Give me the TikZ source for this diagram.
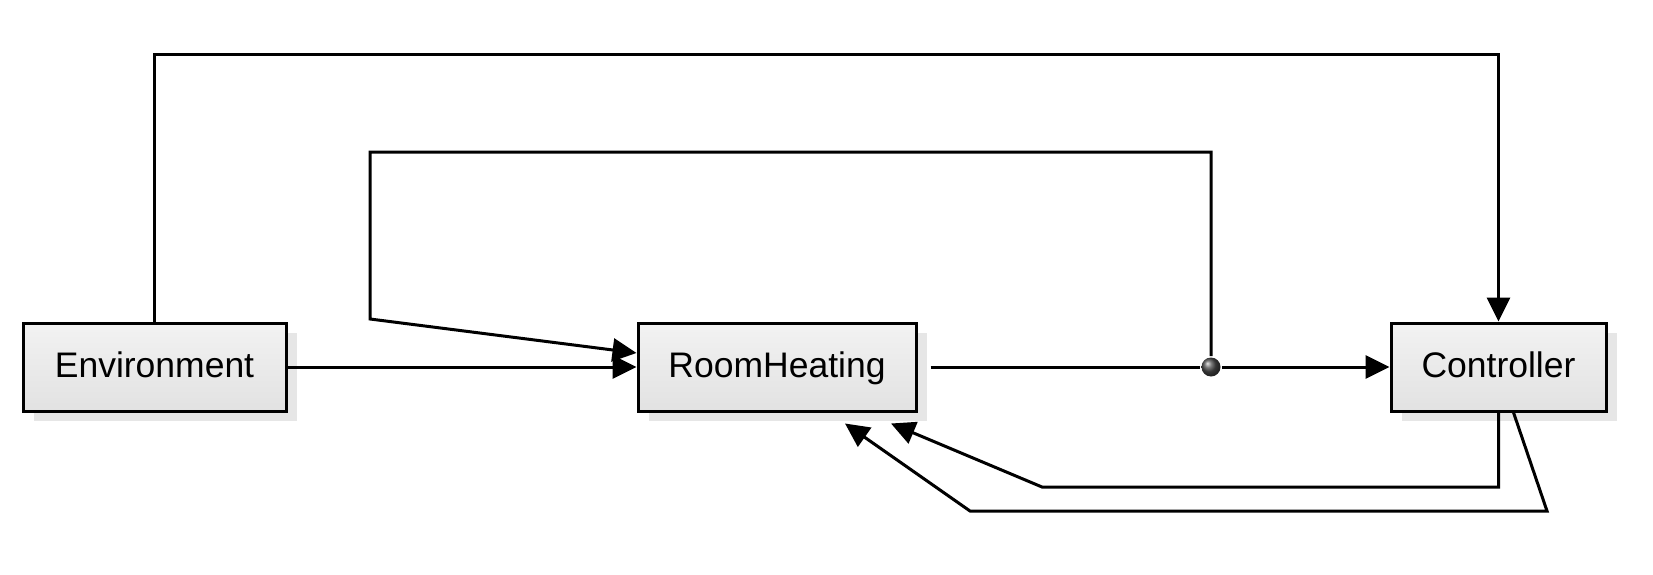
\documentclass[tikz,border=0pt]{standalone}
\usepackage{fontspec}
\setmainfont{Liberation Sans}
\usetikzlibrary{arrows.meta, shadows}
\definecolor{boxtop}{RGB}{242, 242, 242}
\definecolor{boxbot}{RGB}{226, 226, 226}
\definecolor{shadowgray}{RGB}{230, 230, 230}

\begin{document}
\begin{tikzpicture}[x=1pt, y=-1pt, line width=3pt,
    font=\fontsize{35.5}{40}\selectfont,
    block/.style={draw, minimum height=88pt, text height=27pt, text depth=7pt,
      top color=boxtop, bottom color=boxbot,
      general shadow={shadow xshift=11pt, shadow yshift=-10pt, fill=shadowgray}},
    conn/.style={-{Triangle[length=24pt, width=23pt]}}]
  \useasboundingbox (0,0) rectangle (1653,575);
  \node[block, minimum width=263pt] (env) at (154.5,367) {Environment};
  \node[block, minimum width=278pt] (heat) at (777,367) {RoomHeating};
  \node[block, minimum width=215pt] (ctrl) at (1498.5,367) {Controller};
  \node[circle, inner sep=0pt, minimum size=19pt, ball color=black!70] (split) at (1211,367) {};
  % bend points
  \coordinate (topy) at (0,55);
  \coordinate (loopt) at (0,152);
  \coordinate (loopl) at (370,319);
  \coordinate (low1) at (1042,487);
  \coordinate (low2r) at (1547,511);
  \coordinate (low2) at (970,511);
  \draw[conn] (env.north) -- (env.north |- topy) -| (ctrl.north);
  \draw[conn] (env.east) -- (heat.west);
  \draw ([xshift=13pt]heat.east) -- (split);
  \draw[conn] (split) -- (ctrl.west);
  \draw[conn] (split) -- (split |- loopt) -| (loopl) -- ([yshift=14pt]heat.west);
  \draw[conn] (ctrl.south) |- (low1) -- ([xshift=114pt, yshift=-11pt]heat.south);
  \draw[conn] ([xshift=15pt]ctrl.south) -- (low2r) -- (low2) -- ([xshift=68pt, yshift=-11pt]heat.south);
\end{tikzpicture}
\end{document}
